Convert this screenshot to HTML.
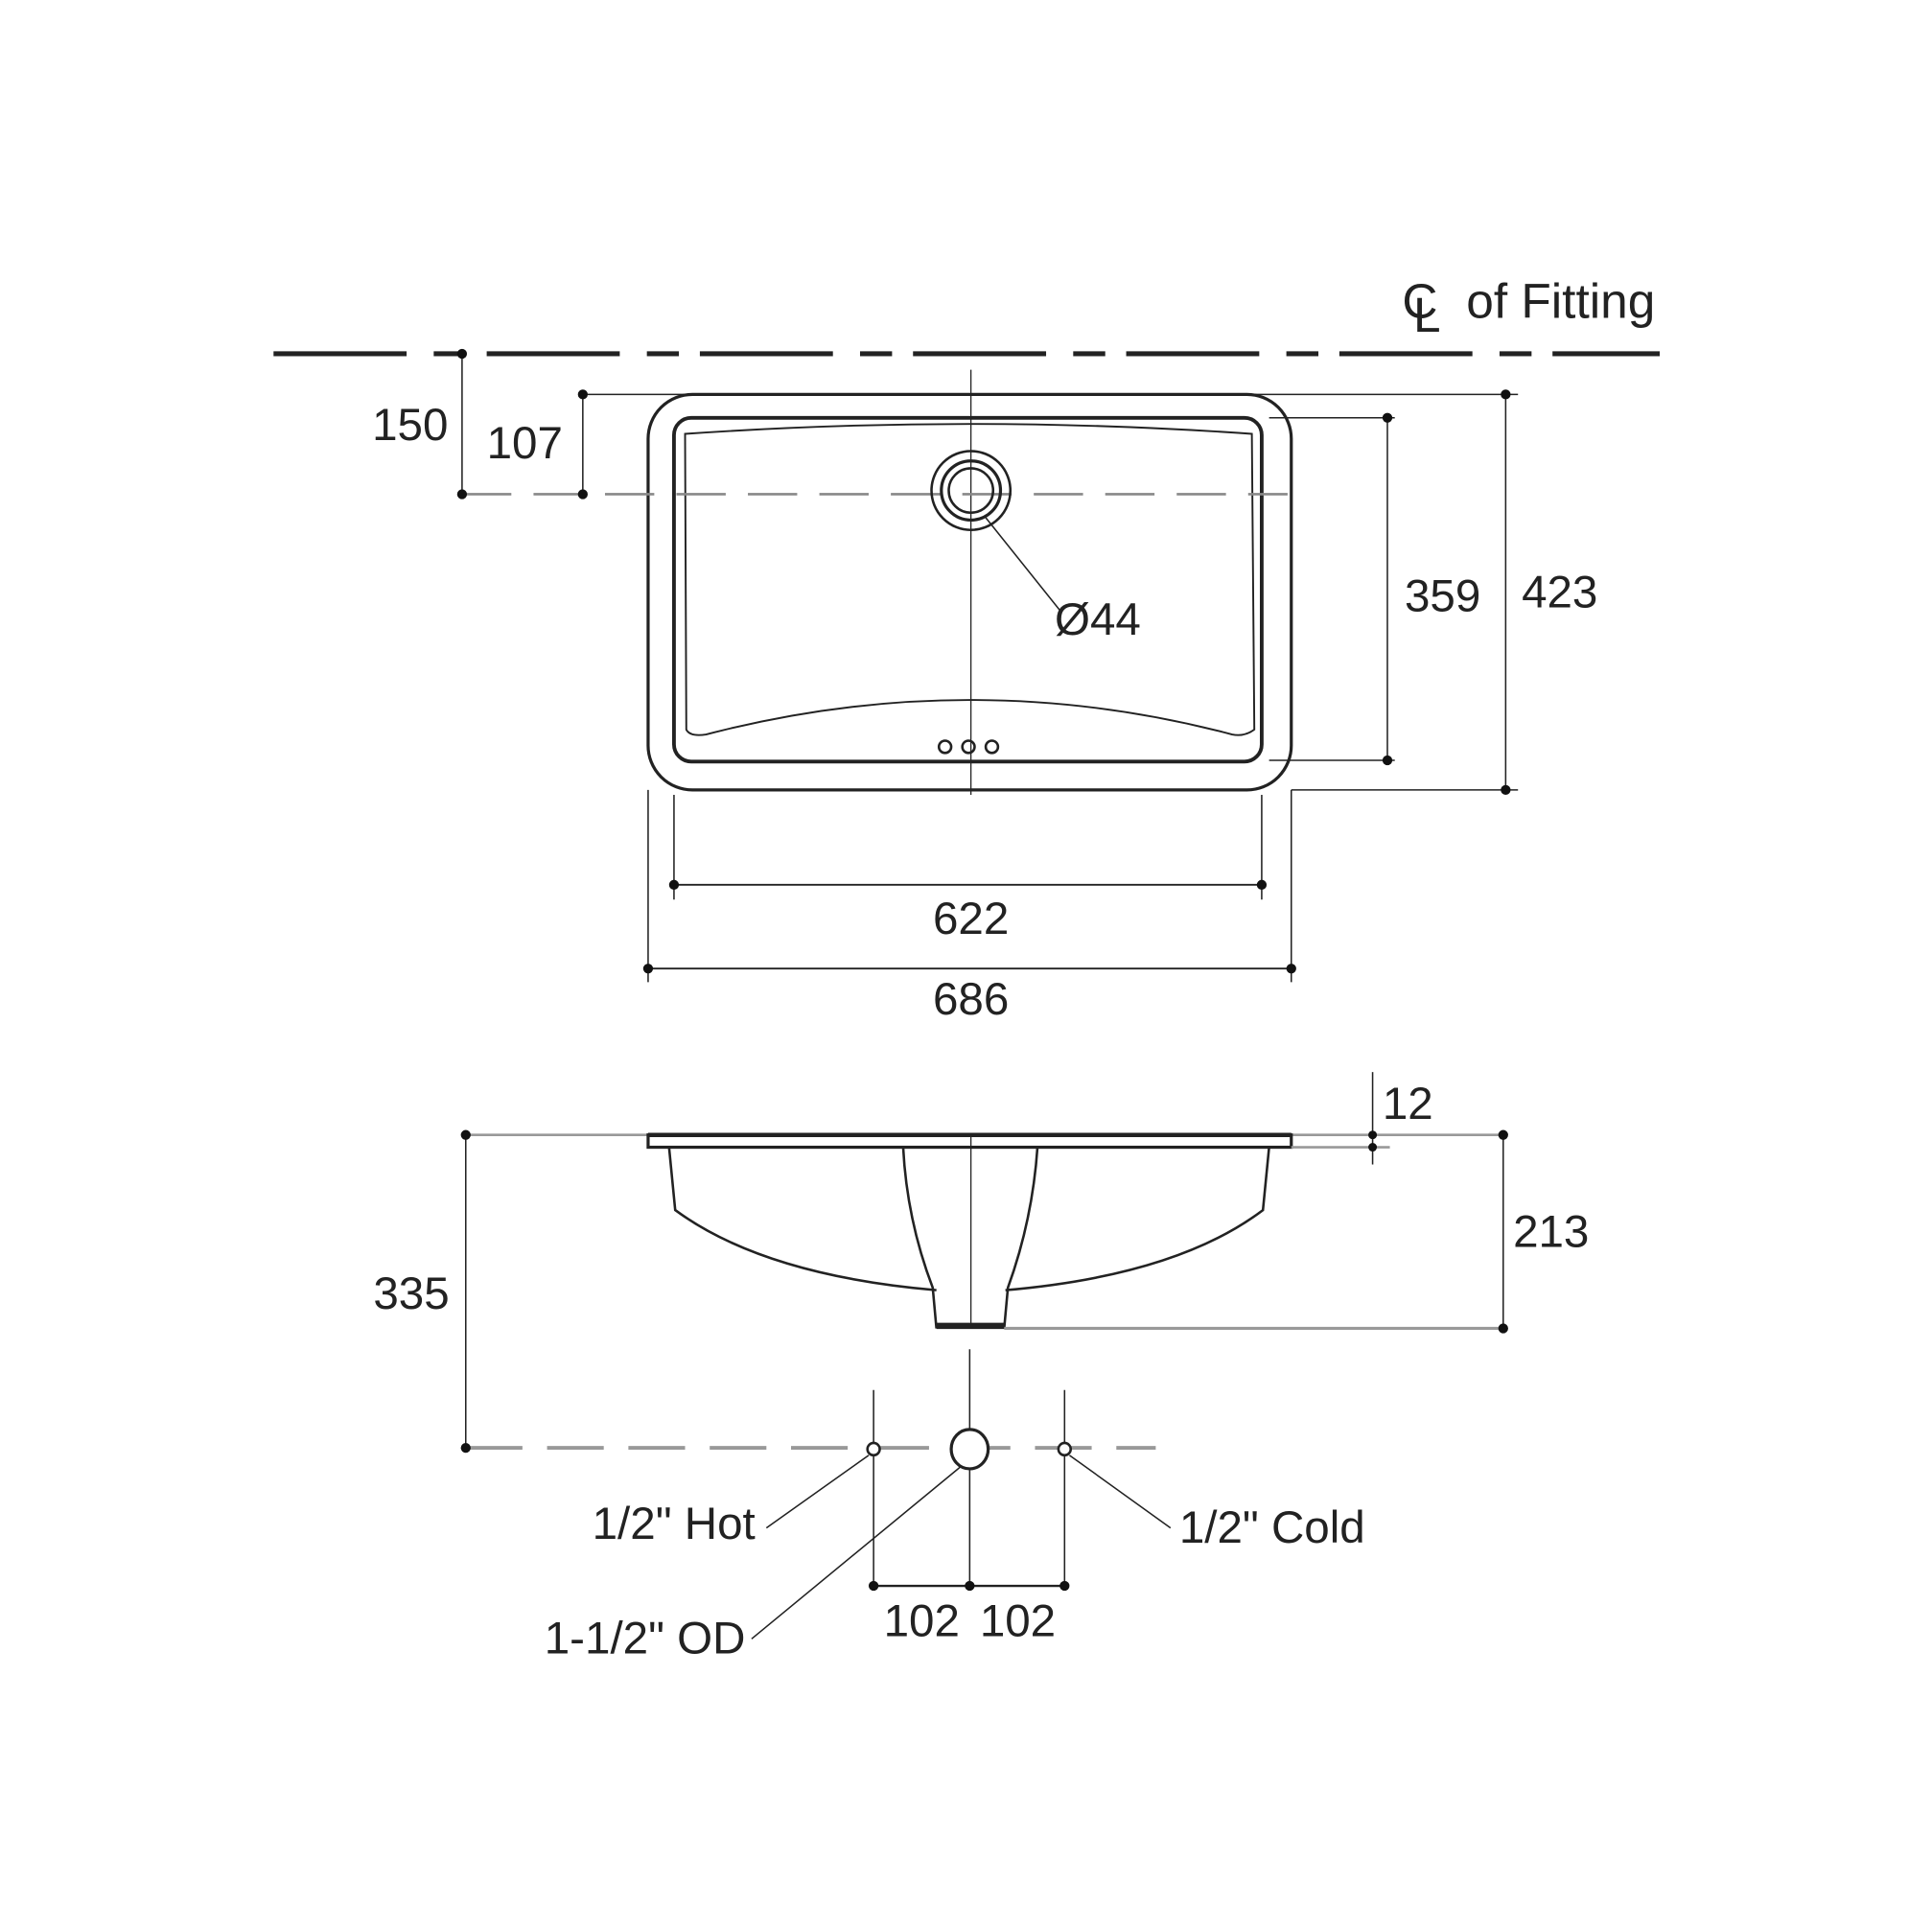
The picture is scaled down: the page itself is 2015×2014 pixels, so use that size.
<!DOCTYPE html>
<html><head><meta charset="utf-8"><style>html,body{margin:0;padding:0;background:#fff}svg{display:block}</style></head>
<body>
<svg width="2015" height="2014" viewBox="0 0 1568 1567" xmlns="http://www.w3.org/2000/svg" font-family="Liberation Sans, sans-serif" font-size="37" fill="#222">
<g stroke="#222" fill="none">
<line x1="222" y1="287" x2="1347" y2="287" stroke-width="4" stroke-dasharray="108,22,26,17"/>
<rect x="526" y="320" width="522" height="321" rx="36" stroke-width="2.5"/>
<rect x="547" y="339" width="477" height="279" rx="14" stroke-width="3"/>
<path d="M556 352 Q788 336 1016 352 L1018 592 Q1010 598 1000 596 Q788 540 573 596 Q560 598 557 592 Z" stroke-width="1.5"/>
<line x1="788" y1="300" x2="788" y2="645" stroke-width="1"/>
<line x1="375" y1="401" x2="1045" y2="401" stroke="#888" stroke-width="2" stroke-dasharray="40,18"/>
<circle cx="788" cy="398" r="32" stroke-width="2"/>
<circle cx="788" cy="398" r="24" stroke-width="2.5"/>
<circle cx="788" cy="398" r="18" stroke-width="2"/>
<line x1="800" y1="420" x2="860" y2="495" stroke-width="1.2"/>
<circle cx="767" cy="606" r="5" stroke-width="2"/><circle cx="786" cy="606" r="5" stroke-width="2"/><circle cx="805" cy="606" r="5" stroke-width="2"/>
<line x1="375" y1="287" x2="375" y2="401" stroke-width="1.2"/>
<line x1="473" y1="320" x2="473" y2="401" stroke-width="1.2"/>
<line x1="473" y1="320" x2="1232" y2="320" stroke-width="1.2"/>
<line x1="1222" y1="320" x2="1222" y2="641" stroke-width="1.2"/>
<line x1="1048" y1="641" x2="1232" y2="641" stroke-width="1.2"/>
<line x1="1030" y1="339" x2="1132" y2="339" stroke-width="1.2"/>
<line x1="1030" y1="617" x2="1132" y2="617" stroke-width="1.2"/>
<line x1="1126" y1="339" x2="1126" y2="617" stroke-width="1.2"/>
<line x1="547" y1="645" x2="547" y2="730" stroke-width="1.2"/>
<line x1="1024" y1="645" x2="1024" y2="730" stroke-width="1.2"/>
<line x1="547" y1="718" x2="1024" y2="718" stroke-width="1.5"/>
<line x1="526" y1="641" x2="526" y2="797" stroke-width="1.2"/>
<line x1="1048" y1="641" x2="1048" y2="797" stroke-width="1.2"/>
<line x1="526" y1="786" x2="1048" y2="786" stroke-width="1.5"/>
<line x1="378" y1="921" x2="1220" y2="921" stroke="#999" stroke-width="2"/>
<rect x="526" y="921" width="522" height="10" stroke-width="2.5"/>
<line x1="526" y1="921" x2="1048" y2="921" stroke-width="3.5"/>
<path d="M543 931 L548 982 Q620 1035 760 1047 M816 1047 Q955 1035 1025 982 L1030 931" stroke-width="2"/>
<path d="M733 931 Q736 990 757 1045 L760 1078 M842 931 Q838 990 818 1045 L815 1078" stroke-width="2"/>
<line x1="760" y1="1076" x2="815" y2="1076" stroke-width="5"/>
<line x1="788" y1="921" x2="788" y2="1075" stroke-width="1"/>
<line x1="815" y1="1078" x2="1220" y2="1078" stroke="#999" stroke-width="2.5"/>
<line x1="1220" y1="921" x2="1220" y2="1078" stroke-width="1.2"/>
<line x1="1114" y1="870" x2="1114" y2="945" stroke-width="1.2"/>
<line x1="1048" y1="931" x2="1128" y2="931" stroke="#999" stroke-width="2"/>
<line x1="378" y1="921" x2="378" y2="1175" stroke-width="1.2"/>
<line x1="378" y1="1175" x2="938" y2="1175" stroke="#999" stroke-width="3" stroke-dasharray="46,20"/>
<line x1="709" y1="1128" x2="709" y2="1290" stroke-width="1.2"/>
<line x1="864" y1="1128" x2="864" y2="1290" stroke-width="1.2"/>
<line x1="787" y1="1095" x2="787" y2="1290" stroke-width="1.2"/>
<line x1="709" y1="1287" x2="864" y2="1287" stroke-width="1.8"/>
<circle cx="709" cy="1176" r="5" stroke-width="2" fill="#fff"/>
<circle cx="864" cy="1176" r="5" stroke-width="2" fill="#fff"/>
<ellipse cx="787" cy="1176" rx="15" ry="16" stroke-width="2.5" fill="#fff"/>
<line x1="705" y1="1181" x2="622" y2="1240" stroke-width="1.2"/>
<line x1="868" y1="1181" x2="950" y2="1240" stroke-width="1.2"/>
<line x1="780" y1="1190" x2="610" y2="1330" stroke-width="1.2"/>
</g>
<g fill="#111">
<circle cx="375" cy="287" r="4"/><circle cx="375" cy="401" r="4"/>
<circle cx="473" cy="320" r="4"/><circle cx="473" cy="401" r="4"/>
<circle cx="1222" cy="320" r="4"/><circle cx="1222" cy="641" r="4"/>
<circle cx="1126" cy="339" r="4"/><circle cx="1126" cy="617" r="4"/>
<circle cx="547" cy="718" r="4"/><circle cx="1024" cy="718" r="4"/>
<circle cx="526" cy="786" r="4"/><circle cx="1048" cy="786" r="4"/>
<circle cx="378" cy="921" r="4"/><circle cx="378" cy="1175" r="4"/>
<circle cx="1220" cy="921" r="4"/><circle cx="1220" cy="1078" r="4"/>
<circle cx="1114" cy="921" r="3.5"/><circle cx="1114" cy="931" r="3.5"/>
<circle cx="709" cy="1287" r="4"/><circle cx="787" cy="1287" r="4"/><circle cx="864" cy="1287" r="4"/>
</g>
<g>
<text x="1138" y="258" font-size="40">C</text><text x="1147" y="269" font-size="40">L</text><text x="1190" y="258" font-size="40">of Fitting</text>
<text x="302" y="357">150</text>
<text x="395" y="372">107</text>
<text x="1140" y="496">359</text>
<text x="1235" y="493">423</text>
<text x="856" y="515">Ø44</text>
<text x="788" y="758" text-anchor="middle">622</text>
<text x="788" y="823" text-anchor="middle">686</text>
<text x="1122" y="908">12</text>
<text x="1228" y="1012">213</text>
<text x="303" y="1062">335</text>
<text x="613" y="1249" text-anchor="end">1/2" Hot</text>
<text x="957" y="1252">1/2" Cold</text>
<text x="605" y="1342" text-anchor="end">1-1/2" OD</text>
<text x="748" y="1328" text-anchor="middle">102</text>
<text x="826" y="1328" text-anchor="middle">102</text>
</g>
</svg>
</body></html>
